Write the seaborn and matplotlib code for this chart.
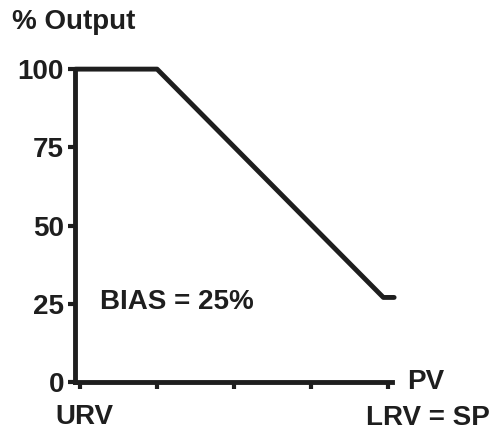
import pandas as pd
import seaborn as sns
import matplotlib.pyplot as plt

sns.set_style("ticks")
plt.rcParams['font.family'] = ['Liberation Sans', 'DejaVu Sans']

# data (x in tick units, URV = 0 ... LRV = 4)
pv = [-0.06, 1.0, 3.94, 4.08]
output = [100, 100, 27, 27]
y_ticks = [0, 25, 50, 75, 100]
x_ticks = [0, 1, 2, 3, 4]

df = pd.DataFrame({"PV": pv, "Output": output})

fig = plt.figure(figsize=(4.91, 4.32), dpi=100)
ax = fig.add_axes([0.153, 0.116, 0.645, 0.724])
sns.lineplot(data=df, x="PV", y="Output", color="#1e1e1e", linewidth=3.5,
             sort=False, ax=ax, clip_on=False)

ax.set_xlim(-0.065, 4.05)
ax.set_ylim(0, 100)
ax.set_yticks(y_ticks)
ax.set_xticks(x_ticks)
ax.set_xticklabels([])
ax.set_yticklabels([str(v) for v in y_ticks], fontsize=20, fontweight='bold', color="#1e1e1e")
ax.set_xlabel("")
ax.set_ylabel("")
sns.despine(ax=ax)
for s in ["left", "bottom"]:
    ax.spines[s].set_linewidth(3.5)
    ax.spines[s].set_color("#1e1e1e")
ax.tick_params(axis='both', length=5, width=3, color="#1e1e1e", pad=3)

txt = dict(fontsize=20, fontweight='bold', color="#1e1e1e")
fig.text(0.024, 0.949, "% Output", ha='left', va='center', **txt)
fig.text(0.829, 0.116, "PV", ha='left', va='center', **txt)
fig.text(0.112, 0.035, "URV", ha='left', va='center', **txt)
fig.text(0.998, 0.033, "LRV = SP", ha='right', va='center', **txt)
ax.text(0.26, 25.5, "BIAS = 25%", ha='left', va='center', **txt)

fig.savefig("out.png", dpi=100)
